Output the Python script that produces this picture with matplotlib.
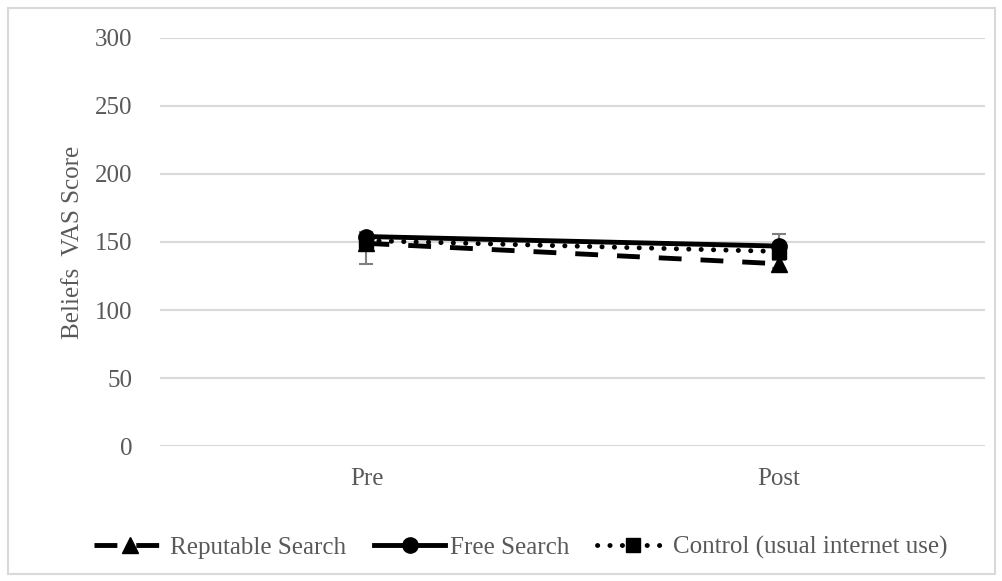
import matplotlib.pyplot as plt
from matplotlib.patches import Rectangle

plt.rcParams['font.family'] = ['Liberation Serif', 'DejaVu Serif']

stages = ["Pre", "Post"]
reputable = [149, 134]
free = [154, 147]
control = [151, 143]
# error bars (lower, upper)
reputable_err = [[15, 3], [3, 3]]
free_err = [[3, 6], [3, 9]]
control_err = [[4, 5], [3, 3]]

grey_txt = "#595959"

fig = plt.figure(figsize=(10.02, 5.81), dpi=100)
ax = fig.add_axes([0.16, 0.232, 0.823, 0.703])

x = range(len(stages))
for vals, err in [(reputable, reputable_err), (free, free_err), (control, control_err)]:
    ax.errorbar(x, vals, yerr=err, fmt="none", ecolor="#7f7f7f", elinewidth=1.5,
                capsize=5, capthick=1.5, zorder=2)

ax.plot(x, reputable, color="black", lw=3.5, ls=(0, (4.7, 3.9)), marker="^", ms=11,
        label="Reputable Search", zorder=3)
ax.plot(x, free, color="black", lw=3.5, ls="-", marker="o", ms=11,
        label="Free Search", zorder=4)
ax.plot(x, control, color="black", lw=3.5, ls=(0, (0.05, 2.5)), dash_capstyle="round",
        marker="s", ms=10, label="Control (usual internet use)", zorder=3)

ax.set_xlim(-0.5, 1.5)
ax.set_ylim(0, 300)
ax.set_yticks(range(0, 301, 50))
ax.set_xticks(list(x))
ax.set_xticklabels(stages)
ax.grid(axis="y", color="#d9d9d9", lw=1.5)
ax.set_axisbelow(True)
for s in ax.spines.values():
    s.set_visible(False)
ax.tick_params(length=0, labelsize=18, colors=grey_txt)
ax.tick_params(axis="y", pad=20)
ax.tick_params(axis="x", pad=16)
ax.set_ylabel("Beliefs  VAS Score", fontsize=18, color=grey_txt, labelpad=8)

leg = fig.legend(loc="center", bbox_to_anchor=(0.52, 0.057), ncol=3, frameon=False,
                 fontsize=18, handlelength=2.85, columnspacing=1.1, handletextpad=0.2)
for t in leg.get_texts():
    t.set_color(grey_txt)

fig.patches.append(Rectangle((0.008, 0.012), 0.985, 0.975, transform=fig.transFigure,
                             fill=False, edgecolor="#d9d9d9", lw=1.5))

fig.savefig("out.png", dpi=100)
